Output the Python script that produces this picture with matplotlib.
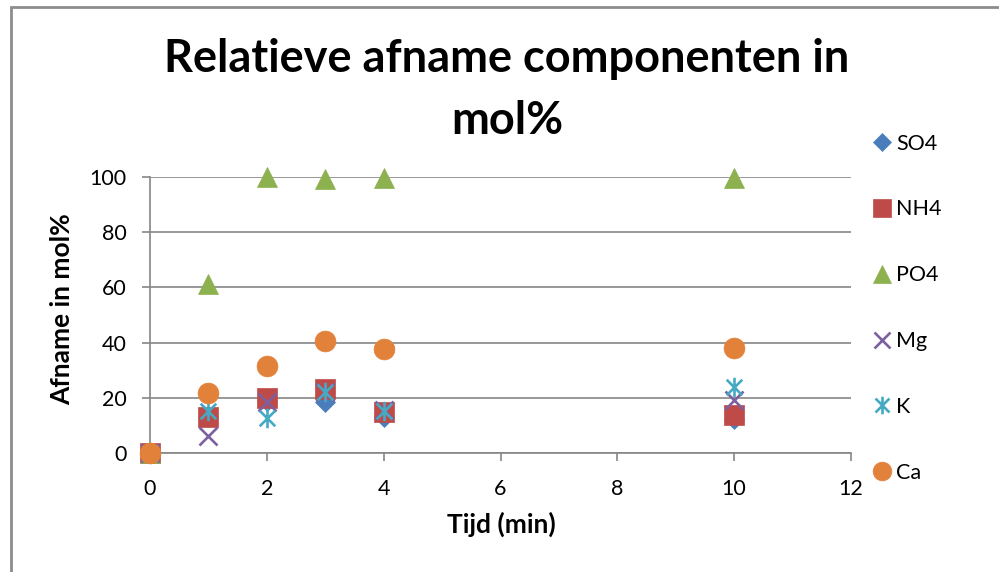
import matplotlib
matplotlib.use("Agg")
import matplotlib.pyplot as plt
from matplotlib.path import Path
from matplotlib.patches import Rectangle

# Meetgegevens: tijd (min) en relatieve afname per component (mol%)
tijd = [0, 1, 2, 3, 4, 10]
so4 = [0, 13.0, 19.0, 18.6, 13.2, 12.2]
nh4 = [0, 12.9, 19.8, 23.1, 15.0, 13.8]
po4 = [0, 61.2, 100.0, 99.3, 99.6, 99.6]
mg = [0, 6.2, 18.6, 22.0, 15.5, 19.2]
k = [0, 15.3, 12.6, 22.2, 15.3, 23.8]
ca = [0, 21.6, 31.5, 40.6, 37.7, 37.9]

xticks = [0, 2, 4, 6, 8, 10, 12]
yticks = [0, 20, 40, 60, 80, 100]

plt.rcParams["font.family"] = ["Lato", "DejaVu Sans"]

# Excel-achtige ster: kruis met verticale lijn
star = Path(
    [(-1, -1), (1, 1), (-1, 1), (1, -1), (0, -1.25), (0, 1.25)],
    [Path.MOVETO, Path.LINETO, Path.MOVETO, Path.LINETO, Path.MOVETO, Path.LINETO],
)

series = [
    ("SO4", so4, dict(marker="D", color="#4A7EBB", ms=10)),
    ("NH4", nh4, dict(marker="s", color="#BE4B48", ms=14)),
    ("PO4", po4, dict(marker="^", color="#8EB150", ms=15)),
    ("Mg", mg, dict(marker="x", color="#7D60A0", ms=13, mew=1.9)),
    ("K", k, dict(marker=star, color="#46AAC5", ms=14, mew=1.9)),
    ("Ca", ca, dict(marker="o", color="#E2823A", ms=15)),
]

fig = plt.figure(figsize=(9.99, 5.72), dpi=100)
ax = fig.add_axes([150 / 999, 1 - 453 / 572, 701 / 999, 276 / 572])

for naam, waarden, st in series:
    ax.plot(tijd, waarden, linestyle="none", marker=st["marker"],
            markersize=st["ms"], color=st["color"],
            markeredgecolor=st["color"], markeredgewidth=st.get("mew", 0.5),
            label=naam, clip_on=False, zorder=3)

ax.set_xlim(0, 12)
ax.set_ylim(0, 100)
ax.set_xticks(xticks)
ax.set_yticks(yticks)
ax.tick_params(axis="both", direction="out", length=5.5, width=1.2,
               color="#868686", labelsize=15.5)
ax.tick_params(axis="y", pad=11.5)
ax.tick_params(axis="x", pad=13)
ax.grid(axis="y", color="#868686", linewidth=1.2)
ax.set_axisbelow(True)
for side in ("top", "right"):
    ax.spines[side].set_visible(False)
for side in ("left", "bottom"):
    ax.spines[side].set_color("#868686")
    ax.spines[side].set_linewidth(1.2)

# Astitels
fig.text(501 / 999, 1 - 524 / 572, "Tijd (min)", ha="center", va="center",
         fontsize=19, fontweight="bold")
fig.text(62 / 999, 1 - 309 / 572, "Afname in mol%", ha="center", va="center",
         rotation=90, fontsize=19, fontweight="bold")

fig.text(507 / 999, 1 - 90 / 572, "Relatieve afname componenten in\nmol%",
         ha="center", va="center", fontsize=32.5, fontweight="bold",
         linespacing=1.6)

leg = ax.legend(loc="upper left", bbox_to_anchor=(864 / 999, 1 - 125 / 572),
                bbox_transform=fig.transFigure, frameon=False, fontsize=15.5,
                labelspacing=2.13, handlelength=0.85, handletextpad=0.23,
                borderaxespad=0, markerscale=0.9)

# Kaderrand van het diagramgebied
fig.patches.append(Rectangle((11 / 999, -0.1), 1.2, 1 - 7 / 572 + 0.1,
                             transform=fig.transFigure, fill=False,
                             edgecolor="#8C8C8C", linewidth=2.0))

fig.savefig("out.png", dpi=100)
